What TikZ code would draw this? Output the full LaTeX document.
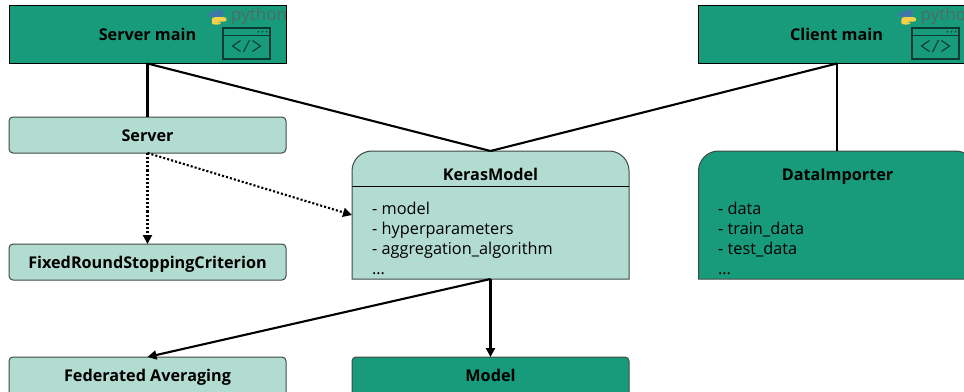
\documentclass[tikz,border=0pt]{standalone}
\usepackage{fontspec}
\setmainfont{Open Sans}
\usetikzlibrary{arrows.meta}
\definecolor{darkgreen}{HTML}{189B7B}
\definecolor{lightgreen}{HTML}{B3DCD1}
\definecolor{edgegrey}{HTML}{3C4A46}
\definecolor{pyblue}{HTML}{3F78A8}
\definecolor{pyyellow}{HTML}{F5D04A}
\definecolor{pygrey}{HTML}{4F6B63}
\definecolor{icondark}{HTML}{0B3B30}
\tikzset{
  box/.style={draw=edgegrey,line width=1pt,minimum width=277pt,inner sep=0pt,outer sep=0pt},
  mainbox/.style={box,draw=black,fill=darkgreen,minimum height=58pt},
  lightbox/.style={box,fill=lightgreen,rounded corners=4pt,minimum height=36pt},
  darkbox/.style={box,fill=darkgreen,rounded corners=4pt,minimum height=36pt},
  bigshell/.style={minimum width=277pt,minimum height=128pt,inner sep=0pt,outer sep=0pt},
  title/.style={font=\fontsize{16.2}{18}\selectfont\bfseries,text=black,inner sep=0pt,anchor=base},
  attrs/.style={font=\fontsize{16.3}{20}\selectfont,align=left,anchor=north west,inner sep=0pt,text=black},
  link/.style={line width=2.1pt,draw=black},
  usearrow/.style={link,-{Triangle[length=9pt,width=9pt]}},
  dotarrow/.style={line width=2.1pt,draw=black,dotted,-{Triangle[length=9pt,width=9pt,line cap=butt,sep=0pt]}},
  pytext/.style={font=\fontsize{17}{18}\selectfont,text=pygrey,inner sep=0pt,anchor=west},
  iconline/.style={draw=icondark,line width=1.1pt},
  pyglyph/.pic={
    \fill[pyblue] (-1,0) .. controls (-8,0) and (-8,-1) .. (-8,-4) .. controls (-8,-7) and (-5,-7) .. (0,-7) -- (0,-8) -- (-3,-8) -- (-3,-9) .. controls (-3,-12) and (5,-12) .. (5,-9) -- (5,-3) .. controls (5,-1) and (3,0) .. (1,0) -- cycle;
    \fill[pyyellow] (1,0) .. controls (8,0) and (8,1) .. (8,4) .. controls (8,7) and (5,7) .. (0,7) -- (0,8) -- (3,8) -- (3,9) .. controls (3,12) and (-5,12) .. (-5,9) -- (-5,3) .. controls (-5,1) and (-3,0) .. (-1,0) -- cycle;
  },
  codeicon/.pic={
    \draw[iconline] (-23.5,-15.5) rectangle (23.5,15.5);
    \draw[iconline] (-23.5,-8) -- (23.5,-8);
    \fill[icondark] (12,-11.8) circle (0.9pt) (16,-11.8) circle (0.9pt) (20,-11.8) circle (0.9pt);
    \draw[iconline] (-6,-3) -- (-14,2.5) -- (-6,8);
    \draw[iconline] (6,-3) -- (14,2.5) -- (6,8);
    \draw[iconline] (3,-3.5) -- (-3,8.5);
  }
}
\begin{document}
\begin{tikzpicture}[x=1pt,y=-1pt]
\useasboundingbox (0,0) rectangle (964,391);
\clip (0,0) rectangle (964,391);
% main boxes
\node[mainbox] (smain) at (147.5,34.5) {};
\node[mainbox] (cmain) at (837,34.5) {};
\node[title] (smaintext) at (147.5,40) {Server main};
\node[title] (cmaintext) at (836.5,40) {Client main};
\pic at (217.5,17) [xscale=1.15,yscale=0.68] {pyglyph};
\pic at (907,17) [xscale=1.15,yscale=0.68] {pyglyph};
\node[pytext] (pysrv) at (231,16) {python};
\node[pytext] (pycli) at (920.5,16) {python};
\pic at (246.5,43.5) {codeicon};
\pic at (935.5,43.5) {codeicon};
% small boxes
\node[lightbox] (server) at (147.5,135) {};
\node[title] (servertext) at (147.5,141) {Server};
\node[lightbox] (fixed) at (147.5,262) {};
\node[title] (fixedtext) at (147.5,268) {FixedRoundStoppingCriterion};
\node[lightbox,minimum height=58pt] (fedavg) at (147.5,386) {};
\node[title] (fedtext) at (147.5,381.5) {Federated Averaging};
\node[darkbox,minimum height=58pt] (model) at (490.5,386) {};
\node[title] (modeltext) at (490.5,381.5) {Model};
% class boxes
\node[bigshell] (keras) at (490.5,215) {};
\node[bigshell] (data) at (837,215) {};
\draw[box,fill=lightgreen] (keras.south west) [rounded corners=20pt] -- (keras.north west) -- (keras.north east) [sharp corners] -- (keras.south east) -- cycle;
\draw[box,fill=darkgreen] (data.south west) [rounded corners=20pt] -- (data.north west) -- (data.north east) [sharp corners] -- (data.south east) -- cycle;
\draw[draw=black,line width=0.8pt] ([yshift=-35pt]keras.north west) -- ([yshift=-35pt]keras.north east);
\node[title] (kerastext) at (490.5,180) {KerasModel};
\node[title] (datatext) at (837.5,180) {DataImporter};
\node[attrs] (kerasattrs) at (372,201.5) {- model\\- hyperparameters\\- aggregation\_algorithm\\\dots};
\node[attrs] (dataattrs) at (718,201.5) {- data\\- train\_data\\- test\_data\\\dots};
% connectors
\draw[link] (smain.south) -- (server.north);
\draw[link] (smain.south) -- (keras.north);
\draw[link] (cmain.south) -- (keras.north);
\draw[link] (cmain.south) -- (data.north);
\draw[dotarrow] (server.south) -- (fixed.north);
\draw[dotarrow] (server.south) -- (keras.west);
\draw[usearrow] (keras.south) -- (fedavg.north);
\draw[usearrow] (keras.south) -- (model.north);
\end{tikzpicture}
\end{document}
